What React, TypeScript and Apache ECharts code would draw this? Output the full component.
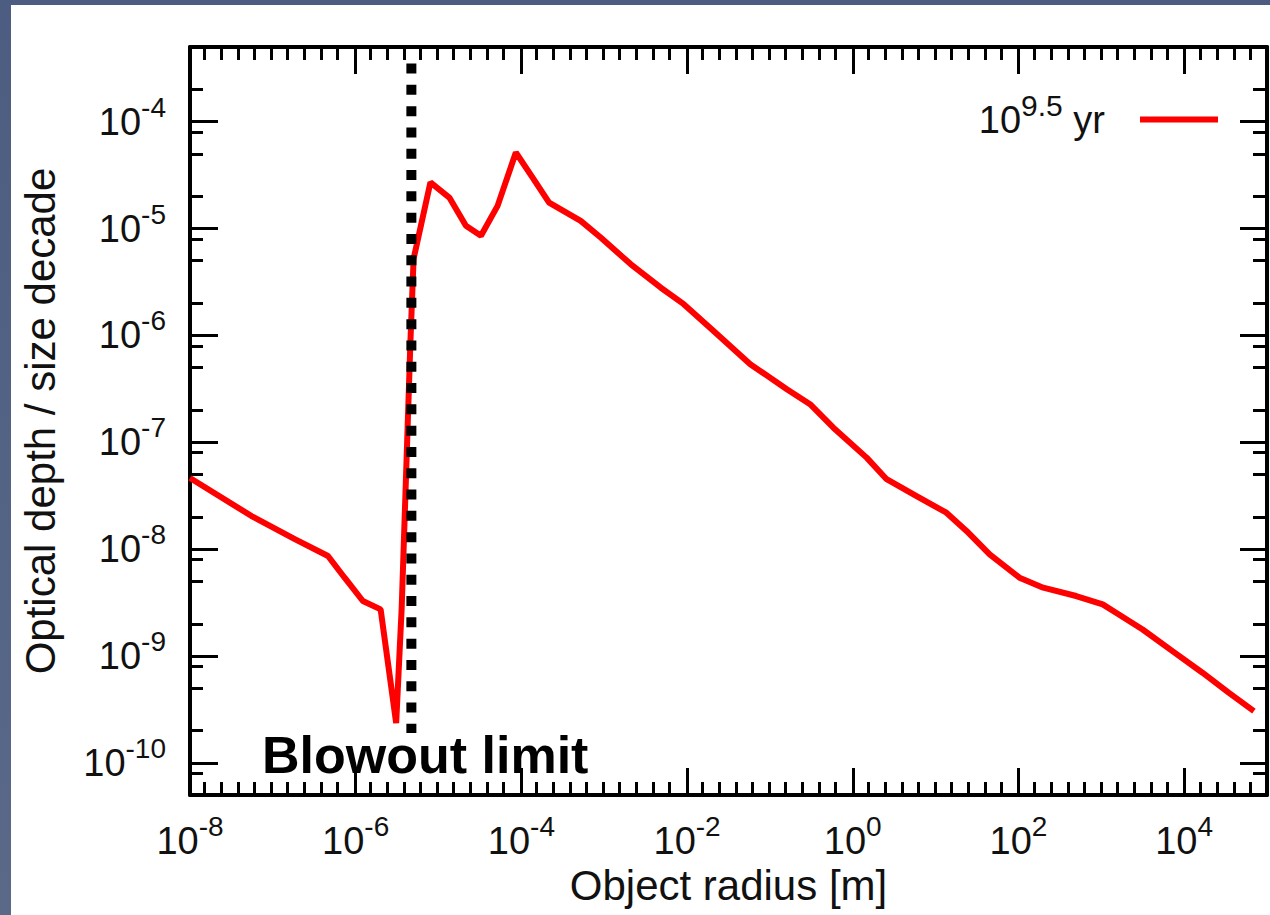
import React, { useEffect, useRef } from 'react';
import * as echarts from 'echarts';

// Object radius [m]
const radius = [
  1e-8, 5.53e-8, 1.84e-7, 4.63e-7, 7.35e-7, 1.22e-6, 2.0e-6, 3.08e-6, 3.59e-6, 4.06e-6,
  4.58e-6, 5.0e-6, 7.98e-6, 1.35e-5, 2.14e-5, 3.25e-5, 5.16e-5, 8.57e-5, 1.36e-4, 2.16e-4,
  5.2e-4, 9.06e-4, 2.08e-3, 4.78e-3, 9.12e-3, 2.09e-2, 5.79e-2, 0.16, 0.305, 0.583,
  1.47, 2.56, 5.89, 13.5, 23.6, 44.9, 103, 199, 497, 1040,
  1507, 3155, 7228, 16634, 34754, 69502,
];
// Optical depth / size decade (10^9.5 yr)
const opticalDepth = [
  4.63e-8, 2.04e-8, 1.24e-8, 8.63e-9, 5.4e-9, 3.27e-9, 2.73e-9, 2.36e-10, 2.81e-9, 5.06e-8,
  8.89e-7, 5.21e-6, 2.7e-5, 1.95e-5, 1.06e-5, 8.55e-6, 1.63e-5, 5.15e-5, 3.01e-5, 1.75e-5,
  1.18e-5, 8.24e-6, 4.65e-6, 2.81e-6, 1.96e-6, 1.1e-6, 5.38e-7, 3.14e-7, 2.27e-7, 1.37e-7,
  7.18e-8, 4.51e-8, 3.14e-8, 2.19e-8, 1.48e-8, 8.93e-9, 5.4e-9, 4.36e-9, 3.64e-9, 3.04e-9,
  2.54e-9, 1.77e-9, 1.11e-9, 6.97e-10, 4.52e-10, 3.05e-10,
];
const blowoutRadius = 4.7e-6;
const blowoutSpan = [3.5e-4, 1.9e-10];

const xMin = 1e-8;
const xMax = 1e5;
const yMin = 5e-11;
const yMax = 5e-4;
const xMajorTicks = [1e-8, 1e-6, 1e-4, 1e-2, 1, 1e2, 1e4];
const yMajorTicks = [1e-10, 1e-9, 1e-8, 1e-7, 1e-6, 1e-5, 1e-4];
const yMinorMantissas = [2, 5, 8];
const yMinorDecades = [1e-11, 1e-10, 1e-9, 1e-8, 1e-7, 1e-6, 1e-5, 1e-4];
const xMinorSteps = [-40, 25]; // in fifths of a decade

const seriesName = 'tau';
const legendBase = '10';
const legendExp = '9.5';
const legendUnit = ' yr';
const xTitle = 'Object radius [m]';
const yTitle = 'Optical depth / size decade';
const annotation = 'Blowout limit';

const xMinorTicks: number[] = [];
for (let k = xMinorSteps[0]; k < xMinorSteps[1]; k++) {
  if (k % 10 !== 0) xMinorTicks.push(Math.pow(10, k / 5));
}
const yMinorTicks: number[] = [];
yMinorDecades.forEach((d) =>
  yMinorMantissas.forEach((m) => {
    const v = m * d;
    if (v > yMin && v < yMax) yMinorTicks.push(v);
  })
);

const FONT = '"Liberation Sans", Arial, Helvetica, sans-serif';
const INK = '#111';
const rich = {
  b: { fontSize: 38, fontFamily: FONT, color: INK },
  s: { fontSize: 28, fontFamily: FONT, color: INK, padding: [0, 0, 29, 0] },
  g: { width: 30 },
};
const legendRich = {
  b: { fontSize: 38, fontFamily: FONT, color: INK },
  s: { fontSize: 30, fontFamily: FONT, color: INK, padding: [0, 0, 29, 0] },
  g: { width: 30 },
};
const fmt = (v: number) => `{b|10}{s|${Math.round(Math.log10(v))}}`;

const tickStyle = { color: '#000', width: 3 };
const frame = { show: true, lineStyle: { color: '#000', width: 4 } };

function xAxis(gridIndex: number, position: string, ticks: number[], len: number, label: boolean, extra: any = {}) {
  return {
    type: 'log', logBase: 10, min: xMin, max: xMax, gridIndex, position,
    axisLine: gridIndex === 0 ? frame : { show: false },
    axisTick: { show: true, inside: true, length: len, customValues: ticks, lineStyle: tickStyle },
    axisLabel: label ? { show: true, customValues: ticks, formatter: fmt, rich, margin: 17 } : { show: false },
    splitLine: { show: false }, minorTick: { show: false }, minorSplitLine: { show: false },
    ...extra,
  };
}
function yAxis(gridIndex: number, position: string, ticks: number[], len: number, label: boolean, extra: any = {}) {
  return {
    type: 'log', logBase: 10, min: yMin, max: yMax, gridIndex, position,
    axisLine: gridIndex === 0 ? frame : { show: false },
    axisTick: { show: true, inside: true, length: len, customValues: ticks, lineStyle: tickStyle },
    axisLabel: label ? { show: true, customValues: ticks, formatter: fmt, rich, margin: 24 } : { show: false },
    splitLine: { show: false }, minorTick: { show: false }, minorSplitLine: { show: false },
    ...extra,
  };
}

export default function App() {
  const ref = useRef<HTMLDivElement>(null);
  useEffect(() => {
    if (!ref.current) return;
    const chart = echarts.init(ref.current, undefined, { renderer: 'svg' });
    const grid = { left: 177, top: 42, right: 3, bottom: 120, containLabel: false };
    chart.setOption({
      animation: false,
      backgroundColor: '#ffffff',
      grid: [grid, { ...grid }],
      xAxis: [
        xAxis(0, 'bottom', xMajorTicks, 27, true, {
          name: xTitle, nameLocation: 'middle', nameGap: 67,
          nameTextStyle: { fontSize: 42, fontFamily: FONT, color: INK },
        }),
        xAxis(0, 'top', xMajorTicks, 27, false),
        xAxis(1, 'bottom', xMinorTicks, 13, false),
        xAxis(1, 'top', xMinorTicks, 13, false),
      ],
      yAxis: [
        yAxis(0, 'left', yMajorTicks, 28, true, {
          name: yTitle, nameLocation: 'middle', nameGap: 129, nameRotate: 90,
          nameTextStyle: { fontSize: 42, fontFamily: FONT, color: INK },
        }),
        yAxis(0, 'right', yMajorTicks, 27, false),
        yAxis(1, 'left', yMinorTicks, 15, false),
        yAxis(1, 'right', yMinorTicks, 14, false),
      ],
      legend: {
        data: [{ name: seriesName, icon: 'rect' }],
        right: 47, top: 80, align: 'right', orient: 'vertical',
        itemWidth: 78, itemHeight: 6, selectedMode: false,
        formatter: () => `{b|${legendBase}}{s|${legendExp}}{b|${legendUnit}}{g|}`,
        textStyle: { rich: legendRich },
      },
      graphic: [
        {
          type: 'text', left: 251, top: 724, z: 100,
          style: { text: annotation, fontSize: 52, fontWeight: 'bold', fontFamily: FONT, fill: '#000' },
        },
      ],
      series: [
        {
          name: seriesName, type: 'line', xAxisIndex: 0, yAxisIndex: 0,
          data: radius.map((r, i) => [r, opticalDepth[i]]),
          showSymbol: false, symbol: 'none',
          lineStyle: { color: '#ff0000', width: 6 }, itemStyle: { color: '#ff0000' },
          z: 2,
        },
        {
          name: 'blowout', type: 'line', xAxisIndex: 0, yAxisIndex: 0,
          data: blowoutSpan.map((v) => [blowoutRadius, v]),
          showSymbol: false, symbol: 'none', silent: true,
          lineStyle: { color: '#000', width: 10, type: [10, 11.3], cap: 'butt' },
          z: 3,
        },
      ],
    });
    return () => chart.dispose();
  }, []);
  return (
    <div style={{ position: 'fixed', left: 0, top: 0, width: 1270, height: 915, background: 'linear-gradient(180deg,#4c5d81,#5a6988)' }}>
      <div ref={ref} style={{ position: 'absolute', left: 11, top: 5, width: 1259, height: 910 }} />
    </div>
  );
}
